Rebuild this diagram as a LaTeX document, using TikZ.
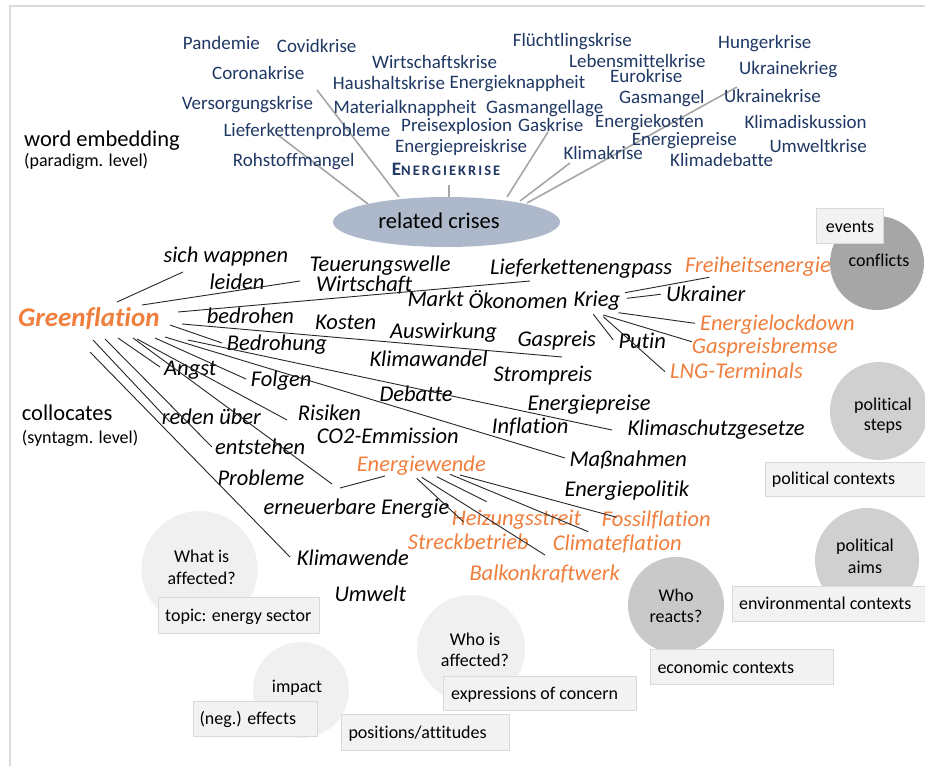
\documentclass[tikz,border=0pt]{standalone}
\usepackage{fontspec}
\setmainfont{Carlito}[Ligatures=NoCommon]
\usetikzlibrary{shapes.geometric}
\definecolor{navy}{HTML}{1F3864}
\definecolor{orangec}{HTML}{F07E3C}
\definecolor{ellfill}{HTML}{ADB9CA}
\definecolor{glinec}{HTML}{A6A6A6}
\definecolor{boxfill}{HTML}{F2F2F2}
\definecolor{boxline}{HTML}{D9D9D9}
\definecolor{framec}{HTML}{D9D9D9}
\definecolor{cdark}{HTML}{A6A6A6}
\definecolor{cmid}{HTML}{D0D0D0}
\definecolor{creactc}{HTML}{C9C9C9}
\definecolor{clight}{HTML}{F0F0F0}
\newcommand\lnk[4][link]{\coordinate (#2a) at (#3); \coordinate (#2b) at (#4); \draw[#1] (#2a) -- (#2b);}
\tikzset{
 crisis/.style={anchor=base west, inner sep=0pt, text=navy, font=\fontsize{19}{21}\selectfont},
 coll/.style={anchor=base west, inner sep=0pt, font=\fontsize{22.5}{25}\selectfont\itshape},
 collo/.style={coll, text=orangec},
 lbig/.style={anchor=base west, inner sep=0pt, font=\fontsize{22.5}{25}\selectfont},
 lsmall/.style={anchor=base west, inner sep=0pt, font=\fontsize{18}{20}\selectfont},
 ctext/.style={anchor=base, inner sep=0pt, font=\fontsize{18}{20}\selectfont},
 btext/.style={anchor=base west, inner sep=0pt, font=\fontsize{18}{20}\selectfont},
 link/.style={draw=black!85, line width=0.9pt},
 glink/.style={draw=glinec, line width=1.6pt},
 circ/.style={circle, draw=none, inner sep=0pt},
 ctxbox/.style={draw=boxline, fill=boxfill, line width=1pt, anchor=north west, inner sep=0pt},
}
\begin{document}
\begin{tikzpicture}[x=1pt,y=-1pt]
\useasboundingbox (0,0) rectangle (925,765);
\fill[white] (0,0) rectangle (925,765);
\draw[framec, line width=2pt] (10,770) -- (10,6) -- (930,6);

% circles
\node[circ, fill=cdark, minimum size=94pt] (cconf) at (877,263) {};
\node[circ, fill=cmid, minimum size=98pt] (csteps) at (879,411) {};
\node[circ, fill=cmid, minimum size=104pt] (caims) at (867,560) {};
\node[circ, fill=creactc, minimum size=96pt] (creact) at (676,605) {};
\node[circ, fill=clight, minimum size=116pt] (cwhat) at (199.5,569) {};
\node[circ, fill=clight, minimum size=108pt] (cwho) at (471,649) {};
\node[circ, fill=clight, minimum size=96pt] (cimp) at (301,690) {};

\node[ctext] (tconf) at (879,266.7) {conflicts};
\node[ctext] (tsteps1) at (883,410) {political};
\node[ctext] (tsteps2) at (883,430) {steps};
\node[ctext] (taims1) at (865,551.7) {political};
\node[ctext] (taims2) at (865,573.3) {aims};
\node[ctext] (treact1) at (676,601.7) {Who};
\node[ctext] (treact2) at (676,622.7) {reacts?};
\node[ctext] (twhat1) at (201.7,562.7) {What is};
\node[ctext] (twhat2) at (201.7,584.3) {affected?};
\node[ctext] (twho1) at (475,645) {Who is};
\node[ctext] (twho2) at (475,666) {affected?};
\node[ctext] (timp) at (297,692.7) {impact};

% context boxes
\node[ctxbox, minimum width=67pt, minimum height=35pt] (bev) at (816,208.3) {};
\node[ctext] (tev) at (bev.center |- 0,232) {events};
\node[ctxbox, minimum width=165pt, minimum height=34pt] (bpol) at (765,461.7) {};
\node[btext] (tpol) at (771.7,484) {political contexts};
\node[ctxbox, minimum width=198pt, minimum height=35pt] (benv) at (732.3,585.7) {};
\node[btext] (tenv) at (739,609.3) {environmental contexts};
\node[ctxbox, minimum width=183pt, minimum height=35pt] (beco) at (650,649.3) {};
\node[btext] (teco) at (657.3,673.3) {economic contexts};
\node[ctxbox, minimum width=193pt, minimum height=34pt] (bexp) at (442.7,675.7) {};
\node[btext] (texp) at (451,699.3) {expressions of concern};
\node[ctxbox, minimum width=168pt, minimum height=36pt] (bpos) at (340.7,714) {};
\node[btext] (tpos) at (348.3,738.3) {positions/attitudes};
\node[ctxbox, minimum width=161pt, minimum height=36pt] (btop) at (158.3,596.7) {};
\node[btext] (ttop) at (165,621) {topic: energy sector};
\node[ctxbox, minimum width=124pt, minimum height=35pt] (bneg) at (192.7,701) {};
\node[btext] (tneg) at (199.3,724) {(neg.) effects};

% gray crisis lines
\lnk[glink]{g1}{278,135}{368,204}
\lnk[glink]{g2}{317,90}{399,197}
\lnk[glink]{g3}{449,185}{449,197}
\lnk[glink]{g4}{548,132}{507,197}
\lnk[glink]{g5}{570,163}{520,201}
\lnk[glink]{g6}{737,87}{527,203}

\node[ellipse, fill=ellfill, minimum width=227pt, minimum height=50pt, inner sep=0pt] (rc) at (446.5,222) {};
\node[inner sep=0pt, font=\fontsize{22.5}{25}\selectfont] (rct) at (439,221) {related crises};

% crisis words
\node[crisis] (w1) at (182.7,50) {Pandemie};
\node[crisis] (w2) at (276.7,52.7) {Covidkrise};
\node[crisis] (w3) at (372,68.3) {Wirtschaftskrise};
\node[crisis] (w4) at (212,79.3) {Coronakrise};
\node[crisis] (w5) at (332.7,90) {Haushaltskrise};
\node[crisis] (w6) at (449.3,88.3) {Energieknappheit};
\node[crisis] (w7) at (181.7,110) {Versorgungskrise};
\node[crisis] (w8) at (333.3,113.3) {Materialknappheit};
\node[crisis] (w9) at (486,113.3) {Gasmangellage};
\node[crisis] (w10) at (223.3,136.7) {Lieferkettenprobleme};
\node[crisis] (w11) at (401,131) {Preisexplosion};
\node[crisis] (w12) at (518,131.7) {Gaskrise};
\node[crisis] (w13) at (395,152.7) {Energiepreiskrise};
\node[crisis] (w14) at (232.7,166.7) {Rohstoffmangel};
\node[crisis, font=\bfseries] (w15) at (391.7,175.7) {{\fontsize{19}{21}\selectfont E}{\fontsize{14.5}{21}\selectfont\addfontfeature{LetterSpace=14}NERGIEKRISE}};
\node[crisis] (w16) at (512.7,46.7) {Flüchtlingskrise};
\node[crisis] (w17) at (718,48.3) {Hungerkrise};
\node[crisis] (w18) at (569,67.7) {Lebensmittelkrise};
\node[crisis] (w19) at (739,75) {Ukrainekrieg};
\node[crisis] (w20) at (610,82.3) {Eurokrise};
\node[crisis] (w21) at (619,103.3) {Gasmangel};
\node[crisis] (w22) at (724,102.7) {Ukrainekrise};
\node[crisis] (w23) at (595,127.3) {Energiekosten};
\node[crisis] (w24) at (744.3,128.3) {Klimadiskussion};
\node[crisis] (w25) at (631.7,145) {Energiepreise};
\node[crisis] (w26) at (769.3,152.3) {Umweltkrise};
\node[crisis] (w27) at (563.3,159.3) {Klimakrise};
\node[crisis] (w28) at (670,166) {Klimadebatte};

% side labels
\node[lbig] (lwe) at (24,146.7) {word embedding};
\node[lsmall] (lpar) at (24,166) {(paradigm. level)};
\node[lbig] (lcol) at (21.7,420.7) {collocates};
\node[lsmall] (lsyn) at (21.7,443.3) {(syntagm. level)};

% collocates
\node[anchor=base west, inner sep=0pt, text=orangec, font=\fontsize{27}{29}\selectfont\bfseries\itshape] (gf) at (18,326.7) {Greenflation};
\node[coll] (c1) at (163.3,262.7) {sich wappnen};
\node[coll] (c2) at (309.3,271.7) {Teuerungswelle};
\node[coll] (c3) at (209.3,289.3) {leiden};
\node[coll] (c4) at (316,291.7) {Wirtschaft};
\node[coll] (c5) at (490,274) {Lieferkettenengpass};
\node[coll] (c6) at (407.3,306) {Markt};
\node[coll] (c7) at (468.3,308.3) {Ökonomen};
\node[coll] (c8) at (573.3,306) {Krieg};
\node[coll] (c9) at (666,301.7) {Ukrainer};
\node[coll] (c10) at (206.7,323.3) {bedrohen};
\node[coll] (c11) at (315,329.3) {Kosten};
\node[coll] (c12) at (390,338.3) {Auswirkung};
\node[coll] (c13) at (517.3,346.7) {Gaspreis};
\node[coll] (c14) at (618.3,348.3) {Putin};
\node[coll] (c15) at (226.7,350.7) {Bedrohung};
\node[coll] (c16) at (369.3,366) {Klimawandel};
\node[coll] (c17) at (493.3,381.7) {Strompreis};
\node[coll] (c18) at (164,375) {Angst};
\node[coll] (c19) at (250.7,386) {Folgen};
\node[coll] (c20) at (379.3,401.7) {Debatte};
\node[coll] (c21) at (527.3,410.7) {Energiepreise};
\node[coll] (c22) at (161.7,424) {reden über};
\node[coll] (c23) at (297.7,420) {Risiken};
\node[coll] (c24) at (491.7,433.3) {Inflation};
\node[coll] (c25) at (627.3,435) {Klimaschutzgesetze};
\node[coll] (c26) at (316.7,443.3) {CO2-Emmission};
\node[coll] (c27) at (215,454.3) {entstehen};
\node[coll] (c28) at (569.3,466.7) {Maßnahmen};
\node[coll] (c29) at (217.3,485) {Probleme};
\node[coll] (c30) at (564.3,496.7) {Energiepolitik};
\node[coll] (c31) at (263.3,514) {erneuerbare Energie};
\node[coll] (c32) at (296.7,565) {Klimawende};
\node[coll] (c33) at (334.3,601.7) {Umwelt};

\node[collo] (o1) at (685,272.7) {Freiheitsenergie};
\node[collo] (o2) at (700,330) {Energielockdown};
\node[collo] (o3) at (691.7,353.3) {Gaspreisbremse};
\node[collo] (o4) at (670,378.3) {LNG-Terminals};
\node[collo] (o5) at (356.7,471.7) {Energiewende};
\node[collo] (o6) at (451.7,525) {Heizungsstreit};
\node[collo] (o7) at (601.7,526.7) {Fossilflation};
\node[collo] (o8) at (407.7,549) {Streckbetrieb};
\node[collo] (o9) at (552.7,550.7) {Climateflation};
\node[collo] (o10) at (469.3,580.7) {Balkonkraftwerk};

% Greenflation links
\lnk{l1}{117,302}{183,272}
\lnk{l2}{142,305}{300,281}
\lnk{l3}{178,312}{530,281}
\lnk{l4}{182,324}{562,357}
\lnk{l5}{170,325}{222,343}
\lnk{l6}{188,340}{612,430}
\lnk{l7}{165,337}{565,458}
\lnk{l8}{155,338}{246,379}
\lnk{l9}{137,339}{287,420}
\lnk{l10}{118,338}{160,367}
\lnk{l11}{133,338}{332,484}
\lnk{l12}{105,339}{212,447}
\lnk{l13}{93,340}{170,422}
\lnk{l14}{90,352}{290,557}
% Krieg links
\lnk{k1}{625,292.7}{709.3,277.3}
\lnk{k2}{626.7,298.3}{660.7,294.3}
\lnk{k3}{618.3,312.7}{695,323.3}
\lnk{k4}{603.3,315}{691.7,341.7}
\lnk{k5}{593.3,314.3}{613.3,340}
\lnk{k6}{603.3,316.7}{665,371.7}
% Energiewende links
\lnk{e1}{340,488}{385,476}
\lnk{e2}{416.7,478.3}{463.3,521.7}
\lnk{e3}{421.7,477.3}{545,555}
\lnk{e4}{436.7,476.7}{486.7,501.7}
\lnk{e5}{450,474.3}{588.3,531.7}
\lnk{e6}{460,475}{616.7,517.3}
\end{tikzpicture}
\end{document}
